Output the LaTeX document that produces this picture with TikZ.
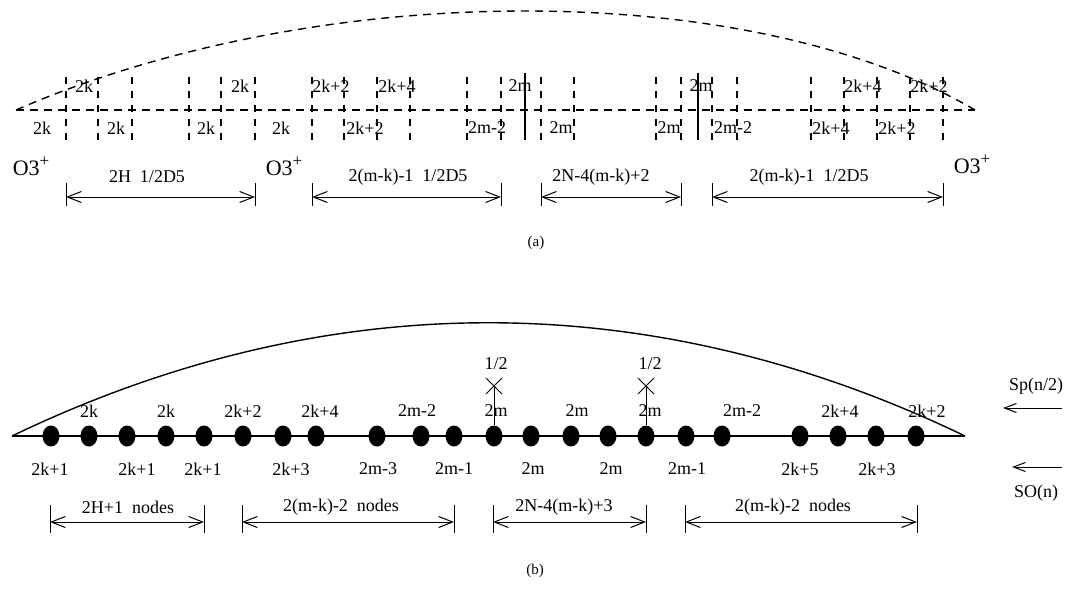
\documentclass[tikz,border=0pt]{standalone}
\usepackage{fontspec}
\setmainfont{Liberation Serif}
\usetikzlibrary{arrows.meta, shapes.geometric, shapes.misc}

\newcommand{\othree}{O3\raisebox{0.42em}{\fontsize{17}{17}\selectfont +}}

\tikzset{
    lbl/.style={font=\fontsize{18}{20}\selectfont, inner sep=0pt},
    bigo/.style={font=\fontsize{22}{24}\selectfont, inner sep=0pt},
    capt/.style={font=\fontsize{15}{17}\selectfont, inner sep=0pt},
    dashline/.style={line width=1.4pt, dash pattern=on 8pt off 6pt},
    tickline/.style={line width=1.1pt, dash pattern=on 7pt off 7pt},
    dimline/.style={line width=1pt, {Straight Barb[length=14pt,width=11pt]}-{Straight Barb[length=14pt,width=11pt]}},
    leftarrow/.style={line width=1pt, -{Straight Barb[length=12pt,width=9pt]}},
    dot/.style={ellipse, fill=black, inner sep=0pt, minimum width=17pt, minimum height=21pt},
    brane/.style={cross out, draw, line width=1pt, minimum size=15pt, inner sep=0pt}
}

\begin{document}
\begin{tikzpicture}[x=1pt, y=-1pt, line width=1.4pt]
    \useasboundingbox (0,0) rectangle (1073,599);

    % (a): orientifold with D5 / NS5 branes
    \coordinate (al) at (16,110);
    \coordinate (ar) at (975,110);
    \draw[dashline] (al) -- (ar);
    \draw[dashline] (al) .. controls (320,-22) and (750,-22) .. (ar);
    \foreach \x in {66,98,132,189,221,255,312,344,377,410,467,501,541,574,656,681,712,737,811,844,877,910,943}
        \draw[tickline] (\x,77) -- (\x,140);
    \draw[line width=1.3pt] (525,73) -- (525,140);
    \draw[line width=1.3pt] (698,73) -- (698,140);

    \foreach \x/\t [count=\i] in {84/2k,240/2k,331/2k+2,397/2k+4,520/2m,701/2m,863/2k+4,929/2k+2}
        \node[lbl] (at\i) at (\x,86) {\t};
    \foreach \x/\t [count=\i] in {42/2k,116/2k,206/2k,281/2k,365/2k+2,487/2m-2,561/2m,669/2m,733/2m-2,831/2k+4,897/2k+2}
        \node[lbl] (ab\i) at (\x,128) {\t};

    \node[bigo] (o1) at (31,166) {\othree};
    \node[bigo] (o2) at (284,166) {\othree};
    \node[bigo] (o3) at (972,164) {\othree};

    % (a) interval widths
    \coordinate (da1l) at (66,197);  \coordinate (da1r) at (255,197);
    \coordinate (da2l) at (312,197); \coordinate (da2r) at (501,197);
    \coordinate (da3l) at (541,197); \coordinate (da3r) at (681,197);
    \coordinate (da4l) at (712,197); \coordinate (da4r) at (943,197);
    \foreach \d in {da1,da2,da3,da4} {
        \draw[dimline] (\d l) -- (\d r);
        \draw[line width=1pt] (\d l) ++(0,-14) -- ++(0,23);
        \draw[line width=1pt] (\d r) ++(0,-14) -- ++(0,23);
    }
    \node[lbl] (ta1) at (147,177) {2H\ \ 1/2D5};
    \node[lbl] (ta2) at (408,177) {2(m-k)-1\ \ 1/2D5};
    \node[lbl] (ta3) at (601,177) {2N-4(m-k)+2};
    \node[lbl] (ta4) at (809,177) {2(m-k)-1\ \ 1/2D5};

    \node[capt] (capa) at (536,243) {(a)};

    % (b): quiver of nodes
    \coordinate (bl) at (12,436);
    \coordinate (br) at (965,436);
    \draw (bl) -- (br);
    \draw (bl) .. controls (326,285) and (651,285) .. (br);
    \foreach \x [count=\i] in {51,89,127,166,204,243,283,316,377,421,454,494,531,571,608,646,686,722,800,838,876,916}
        \node[dot] (d\i) at (\x,436) {};

    \node[brane] (x1) at (494,386) {};
    \node[brane] (x2) at (646,386) {};
    \draw[line width=1pt] (x1.center) -- (d12);
    \draw[line width=1pt] (x2.center) -- (d16);
    \node[lbl] (h1) at (496,364) {1/2};
    \node[lbl] (h2) at (650,364) {1/2};

    \foreach \x/\t [count=\i] in {89/2k,166/2k,243/2k+2,320/2k+4,417/2m-2,496/2m,577/2m,650/2m,742/2m-2,840/2k+4,927/2k+2}
        \node[lbl] (bt\i) at (\x,411) {\t};
    \foreach \x/\t [count=\i] in {50/2k+1,137/2k+1,203/2k+1,291/2k+3,378/2m-3,454/2m-1,533/2m,611/2m,687/2m-1,800/2k+5,877/2k+3}
        \node[lbl] (bb\i) at (\x,469) {\t};

    % (b) node counts
    \coordinate (db1l) at (50,522);  \coordinate (db1r) at (204,522);
    \coordinate (db2l) at (242,522); \coordinate (db2r) at (454,522);
    \coordinate (db3l) at (493,522); \coordinate (db3r) at (646,522);
    \coordinate (db4l) at (685,522); \coordinate (db4r) at (917,522);
    \foreach \d in {db1,db2,db3,db4} {
        \draw[dimline] (\d l) -- (\d r);
        \draw[line width=1pt] (\d l) ++(0,-17) -- ++(0,28);
        \draw[line width=1pt] (\d r) ++(0,-17) -- ++(0,28);
    }
    \node[lbl] (tb1) at (128,507) {2H+1\ \ nodes};
    \node[lbl] (tb2) at (341,507) {2(m-k)-2\ \ nodes};
    \node[lbl] (tb3) at (564,507) {2N-4(m-k)+3};
    \node[lbl] (tb4) at (793,507) {2(m-k)-2\ \ nodes};

    % gauge groups
    \node[lbl] (sp) at (1036,386) {Sp(n/2)};
    \node[lbl] (so) at (1036,493) {SO(n)};
    \coordinate (spa) at (1062,408); \coordinate (spb) at (1003,408);
    \coordinate (soa) at (1062,467); \coordinate (sob) at (1012,467);
    \draw[leftarrow] (spa) -- (spb);
    \draw[leftarrow] (soa) -- (sob);

    \node[capt] (capb) at (535,571) {(b)};
\end{tikzpicture}
\end{document}
